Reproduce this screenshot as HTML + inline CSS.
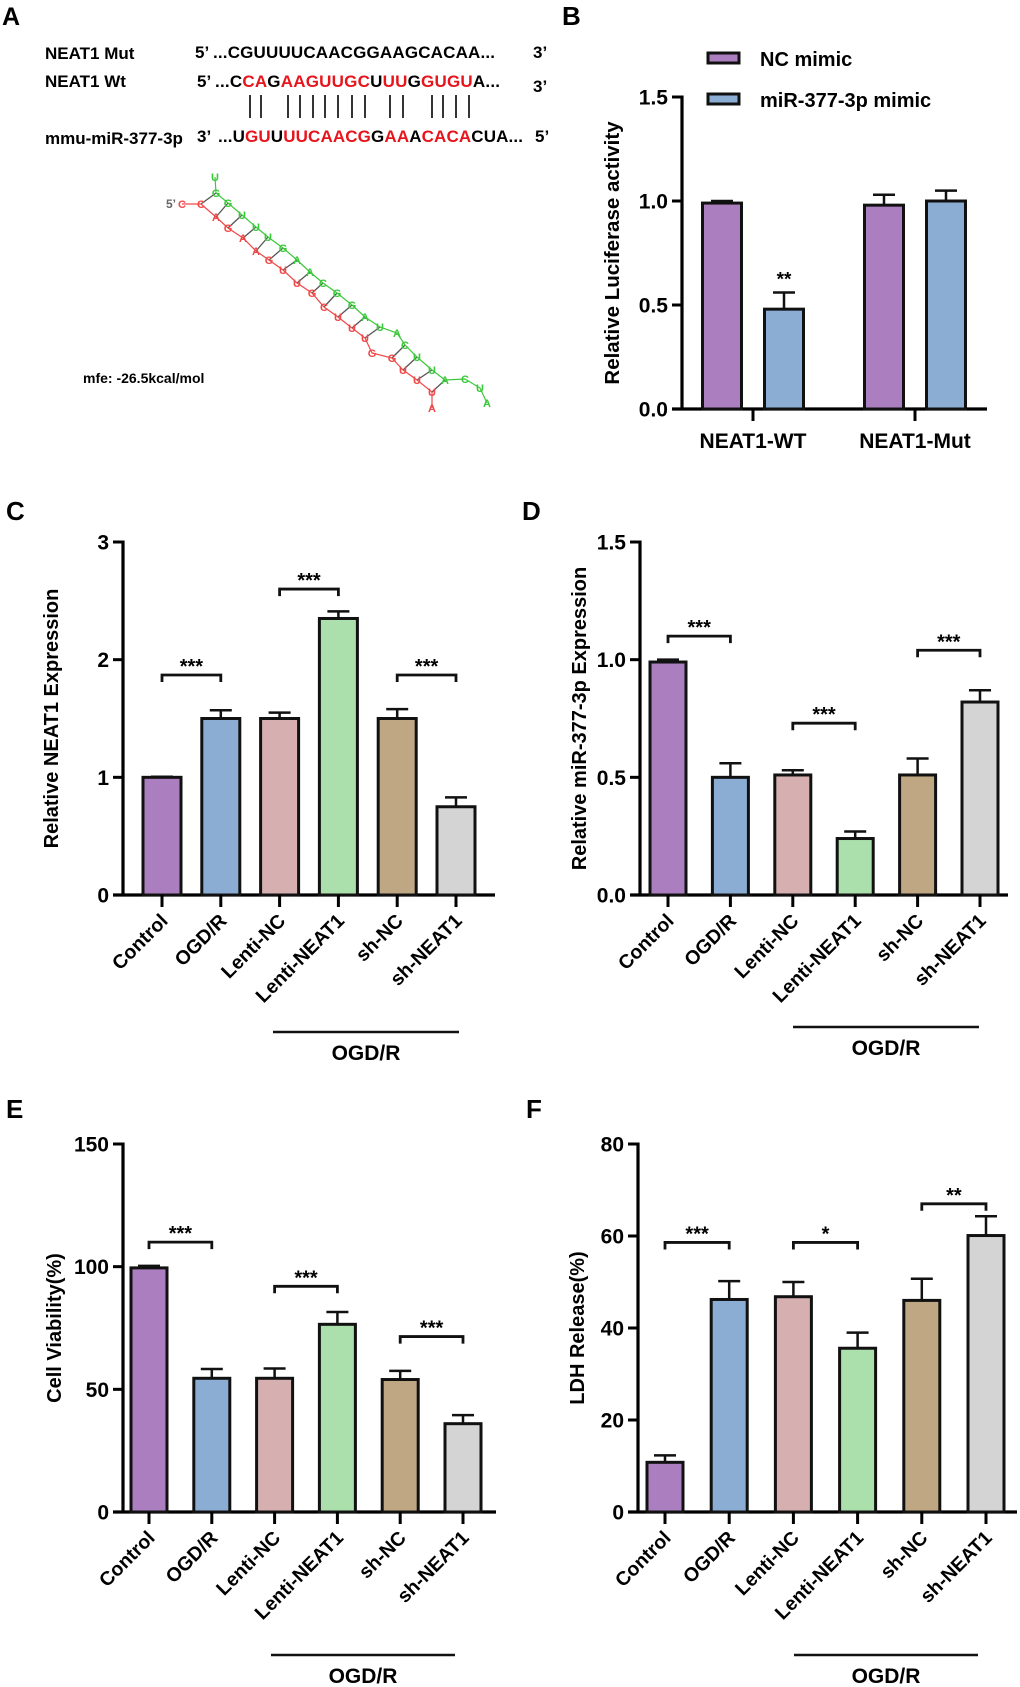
<!DOCTYPE html>
<html><head><meta charset="utf-8"><style>
html,body{margin:0;padding:0;background:#fff;}
svg{display:block;font-family:"Liberation Sans",Arial,sans-serif;}
text{font-weight:bold;}
</style></head><body>
<svg id="fig" width="1020" height="1687" viewBox="0 0 1020 1687" xmlns="http://www.w3.org/2000/svg">
<rect width="1020" height="1687" fill="#fff"/>
<g id="panelA">
<text x="2" y="25" font-size="25">A</text>
<text x="45" y="59" font-size="17">NEAT1 Mut</text>
<text x="45" y="87" font-size="17">NEAT1  Wt</text>
<text x="45" y="144" font-size="17">mmu-miR-377-3p</text>
<text x="195" y="58" font-size="17">5’ <tspan x="213" textLength="282">...CGUUUUCAACGGAAGCACAA...</tspan></text>
<text x="533" y="58" font-size="17">3’</text>
<text x="197" y="87" font-size="17">5’ <tspan x="215" textLength="285">...C<tspan fill="#e8141b">CA</tspan>G<tspan fill="#e8141b">AAGUUGC</tspan>U<tspan fill="#e8141b">UU</tspan>G<tspan fill="#e8141b">GUGU</tspan>A...</tspan></text>
<text x="533" y="92" font-size="17">3’</text>
<text x="197" y="142" font-size="17">3’ <tspan x="218" textLength="305">...U<tspan fill="#e8141b">GU</tspan>U<tspan fill="#e8141b">UUCAACG</tspan>G<tspan fill="#e8141b">AA</tspan>A<tspan fill="#e8141b">CACA</tspan>CUA...</tspan></text>
<text x="535" y="142" font-size="17">5’</text>
<g id="pairlines" stroke="#000" stroke-width="1.6"></g>
<g id="struct"></g>
<text x="83" y="383" font-size="14">mfe: -26.5kcal/mol</text>
</g>
<g id="panelB"></g>
<g id="panelC"></g>
<g id="panelD"></g>
<g id="panelE"></g>
<g id="panelF"></g>
</svg>
<script>
// ---------- Panel B data ----------
const bGroups = ["NEAT1-WT", "NEAT1-Mut"];
const bSeries = ["NC mimic", "miR-377-3p mimic"];
const bNC = [0.99, 0.98];
const bNCerr = [1.00, 1.03];
const bMimic = [0.48, 1.00];
const bMimicErr = [0.56, 1.05];
const bTicks = ["0.0", "0.5", "1.0", "1.5"];

// ---------- Shared categories ----------
const categories = ["Control", "OGD/R", "Lenti-NC", "Lenti-NEAT1", "sh-NC", "sh-NEAT1"];

// ---------- Panel C data ----------
const cValues = [1.0, 1.5, 1.5, 2.35, 1.5, 0.75];
const cErr = [1.005, 1.57, 1.55, 2.41, 1.58, 0.83];
const cTicks = ["0", "1", "2", "3"];
const cSig = ["***", "***", "***"];
const cSigY = [1.87, 2.6, 1.87];

// ---------- Panel D data ----------
const dValues = [0.99, 0.50, 0.51, 0.24, 0.51, 0.82];
const dErr = [1.0, 0.56, 0.53, 0.27, 0.58, 0.87];
const dTicks = ["0.0", "0.5", "1.0", "1.5"];
const dSig = ["***", "***", "***"];
const dSigY = [1.10, 0.73, 1.04];

// ---------- Panel E data ----------
const eValues = [99.5, 54.5, 54.5, 76.5, 54, 36];
const eErr = [100.3, 58.3, 58.5, 81.5, 57.5, 39.5];
const eTicks = ["0", "50", "100", "150"];
const eSig = ["***", "***", "***"];
const eSigY = [110, 92, 71.5];

// ---------- Panel F data ----------
const fValues = [10.8, 46.2, 46.8, 35.6, 46.0, 60.1];
const fErr = [12.3, 50.2, 50.0, 39.0, 50.7, 64.3];
const fTicks = ["0", "20", "40", "60", "80"];
const fSig = ["***", "*", "**"];
const fSigY = [58.6, 58.6, 67];

const NS = "http://www.w3.org/2000/svg";
const colors = ["#ab7fbf", "#8badd4", "#d6afb0", "#abdfac", "#bfa784", "#d4d4d4"];
function mk(parent, tag, attrs, txt) {
  const e = document.createElementNS(NS, tag);
  for (const k in attrs) e.setAttribute(k, attrs[k]);
  if (txt !== undefined) e.textContent = txt;
  parent.appendChild(e);
  return e;
}

// ---------- Panel A decorations ----------
const pairX = [250,261,288,300,313,325,338,352,365,390,403,432,443,456,469];
const pl = document.getElementById("pairlines");
pairX.forEach(x => {
  const l = mk(pl, "line", {x1: x, y1: 95, x2: x, y2: 118});
  
  
});
const redPts = [[182,204,"C"],[201,204,"C"],[216,217,"A"],[228,228,"G"],[243,238,"A"],[256,251,"A"],[269,260,"G"],[283,270,"U"],[297,283,"U"],[312,293,"G"],[324,307,"C"],[338,317,"U"],[352,328,"U"],[365,338,"U"],[372,353,"G"],[392,358,"G"],[403,370,"U"],[417,380,"U"],[432,392,"U"],[432,408,"A"]];
const greenPts = [[215,177,"U"],[216,193,"G"],[228,203,"G"],[242,215,"U"],[256,227,"U"],[268,237,"U"],[283,248,"G"],[297,260,"A"],[310,272,"A"],[323,283,"C"],[337,293,"G"],[352,305,"G"],[365,317,"A"],[380,327,"U"],[397,333,"A"],[405,345,"C"],[417,357,"U"],[432,370,"U"],[445,380,"A"],[465,379,"C"],[480,388,"U"],[487,403,"A"]];
const pairs = [[1,1],[2,2],[3,3],[4,4],[5,5],[6,6],[7,7],[8,8],[9,9],[10,10],[11,11],[12,12],[13,13],[15,15],[16,16],[17,17],[18,18]];
const st = document.getElementById("struct");
pairs.forEach(p => {
  const a = redPts[p[0]], b = greenPts[p[1]];
  const l = mk(st, "line", {x1: a[0], y1: a[1], x2: b[0], y2: b[1], stroke: "#555", "stroke-width": 1.3});
  
  
});
const rl = mk(st, "polyline", {points: redPts.map(p => p[0] + "," + p[1]).join(" "), fill: "none", stroke: "#f04848", "stroke-width": 1.2});


const gl = mk(st, "polyline", {points: greenPts.map(p => p[0] + "," + p[1]).join(" "), fill: "none", stroke: "#3cc83c", "stroke-width": 1.2});


redPts.forEach(p => {
  const t = mk(st, "text", {x: p[0], y: p[1] + 4, "font-size": 11, "font-weight": "normal", fill: "#f04848", "text-anchor": "middle"}, p[2]);
  
  
});
greenPts.forEach(p => {
  const t = mk(st, "text", {x: p[0], y: p[1] + 4, "font-size": 11, "font-weight": "normal", fill: "#3cc83c", "text-anchor": "middle"}, p[2]);
  
  
});
const fp = mk(st, "text", {x: 166, y: 208, "font-size": 12, fill: "#666"}, "5’");



// ---------- Generic axis helper ----------
function yAxis(g, cfg, ticks) {
  const ys = v => cfg.y0 - (v / cfg.max) * (cfg.y0 - cfg.yTop);
  const ax = mk(g, "line", {x1: cfg.ax, y1: cfg.yTop - 1.5, x2: cfg.ax, y2: cfg.y0 + 1.5, stroke: "#000", "stroke-width": 3.2});
  
  
  const xa = mk(g, "line", {x1: cfg.ax - 10, y1: cfg.y0, x2: cfg.xEnd, y2: cfg.y0, stroke: "#000", "stroke-width": 3.2});
  
  
  ticks.forEach(t => {
    const y = ys(parseFloat(t));
    const tl = mk(g, "line", {x1: cfg.ax - 10, y1: y, x2: cfg.ax, y2: y, stroke: "#000", "stroke-width": 3});
    
    
    const tx = mk(g, "text", {x: cfg.ax - 14, y: y + 7.5, "font-size": 21, "text-anchor": "end"}, t);
    
    
  });
  const tt = mk(g, "text", {x: 0, y: 0, "font-size": cfg.titleSize || 20, "text-anchor": "middle", transform: "translate(" + cfg.titleX + "," + ((cfg.yTop + cfg.y0) / 2) + ") rotate(-90)"}, cfg.title);
  
  
  const pl = mk(g, "text", {x: cfg.labelX, y: cfg.labelY, "font-size": 26}, cfg.label);
  
  
  return ys;
}
function bar(g, x, w, y0, yv, ye, color) {
  const r = mk(g, "rect", {x: x - w / 2, y: yv, width: w, height: y0 - yv, fill: color, stroke: "#111", "stroke-width": 3});
  
  
  const e = mk(g, "path", {d: "M" + x + "," + yv + "V" + ye + "M" + (x - 11) + "," + ye + "H" + (x + 11), stroke: "#111", "stroke-width": 2.5, fill: "none"});
  
  
}

// ---------- Panel B ----------
(function () {
  const g = document.getElementById("panelB");
  const cfg = {ax: 682, xEnd: 987, y0: 409, yTop: 97, max: 1.5, title: "Relative Luciferase activity", titleX: 619, titleSize: 20.5, label: "B", labelX: 562, labelY: 25};
  const ys = yAxis(g, cfg, bTicks);
  const gx = i => 753 + i * 162;
  bGroups.forEach((name, i) => {
    const c = gx(i);
    bar(g, c - 31, 39, cfg.y0, ys(bNC[i]), ys(bNCerr[i]), colors[0]);
    bar(g, c + 31, 39, cfg.y0, ys(bMimic[i]), ys(bMimicErr[i]), colors[1]);
    const t = mk(g, "line", {x1: c, y1: cfg.y0, x2: c, y2: cfg.y0 + 12, stroke: "#000", "stroke-width": 3});
    
    
    const l = mk(g, "text", {x: c, y: 448, "font-size": 21, "text-anchor": "middle"}, name);
    
    
  });
  const s = mk(g, "text", {x: gx(0) + 31, y: ys(bMimicErr[0]) - 7, "font-size": 19, "text-anchor": "middle"}, "**");
  
  
  bSeries.forEach((name, i) => {
    const y = 53 + i * 41;
    const r = mk(g, "rect", {x: 708, y: y, width: 31, height: 10, fill: colors[i], stroke: "#111", "stroke-width": 3});
    
    
    const t = mk(g, "text", {x: 760, y: y + 13, "font-size": 20}, name);
    
    
  });
})();

// ---------- Six-group panels ----------
function sixPanel(id, cfg, values, errs, ticks, sig, sigY) {
  const g = document.getElementById(id);
  const ys = yAxis(g, cfg, ticks);
  const xs = i => cfg.x0 + i * cfg.step;
  categories.forEach((name, i) => {
    const c = xs(i);
    bar(g, c, cfg.bw, cfg.y0, ys(values[i]), ys(errs[i]), colors[i]);
    const t = mk(g, "line", {x1: c, y1: cfg.y0, x2: c, y2: cfg.y0 + 12, stroke: "#000", "stroke-width": 3});
    
    
    const l = mk(g, "text", {x: 0, y: 0, "font-size": 19.5, "text-anchor": "end", transform: "translate(" + (c + 7) + "," + (cfg.y0 + 27) + ") rotate(-45)"}, name);
    
    
  });
  sig.forEach((s, k) => {
    const a = xs(k * 2), b = xs(k * 2 + 1), y = ys(sigY[k]);
    const p = mk(g, "path", {d: "M" + a + "," + (y + 7) + "V" + y + "H" + b + "V" + (y + 7), stroke: "#111", "stroke-width": 2.8, fill: "none"});
    
    
    const t = mk(g, "text", {x: (a + b) / 2, y: y - 2, "font-size": 20, "text-anchor": "middle"}, s);
    
    
  });
  const gl = mk(g, "line", {x1: cfg.ogdX1, y1: cfg.ogdY, x2: cfg.ogdX2, y2: cfg.ogdY, stroke: "#111", "stroke-width": 2.5});
  
  
  const gt = mk(g, "text", {x: (cfg.ogdX1 + cfg.ogdX2) / 2, y: cfg.ogdY + 28, "font-size": 21, "text-anchor": "middle"}, "OGD/R");
  
  
}
sixPanel("panelC", {ax: 123, xEnd: 495, y0: 895, yTop: 542, max: 3, x0: 162, step: 58.8, bw: 38, title: "Relative NEAT1 Expression", titleX: 58, label: "C", labelX: 6, labelY: 520, ogdX1: 273, ogdX2: 459, ogdY: 1032}, cValues, cErr, cTicks, cSig, cSigY);
sixPanel("panelD", {ax: 640, xEnd: 1008, y0: 895, yTop: 542, max: 1.5, x0: 668, step: 62.4, bw: 36, title: "Relative miR-377-3p Expression", titleX: 586, label: "D", labelX: 522, labelY: 520, ogdX1: 793, ogdX2: 979, ogdY: 1027}, dValues, dErr, dTicks, dSig, dSigY);
sixPanel("panelE", {ax: 123, xEnd: 496, y0: 1512, yTop: 1144, max: 150, x0: 149, step: 62.8, bw: 36, title: "Cell Viability(%)", titleX: 61, label: "E", labelX: 6, labelY: 1118, ogdX1: 271, ogdX2: 455, ogdY: 1655}, eValues, eErr, eTicks, eSig, eSigY);
sixPanel("panelF", {ax: 638, xEnd: 1017, y0: 1512, yTop: 1144, max: 80, x0: 665, step: 64.2, bw: 36, title: "LDH Release(%)", titleX: 584, label: "F", labelX: 526, labelY: 1118, ogdX1: 794, ogdX2: 978, ogdY: 1655}, fValues, fErr, fTicks, fSig, fSigY);
</script>
</body></html>
